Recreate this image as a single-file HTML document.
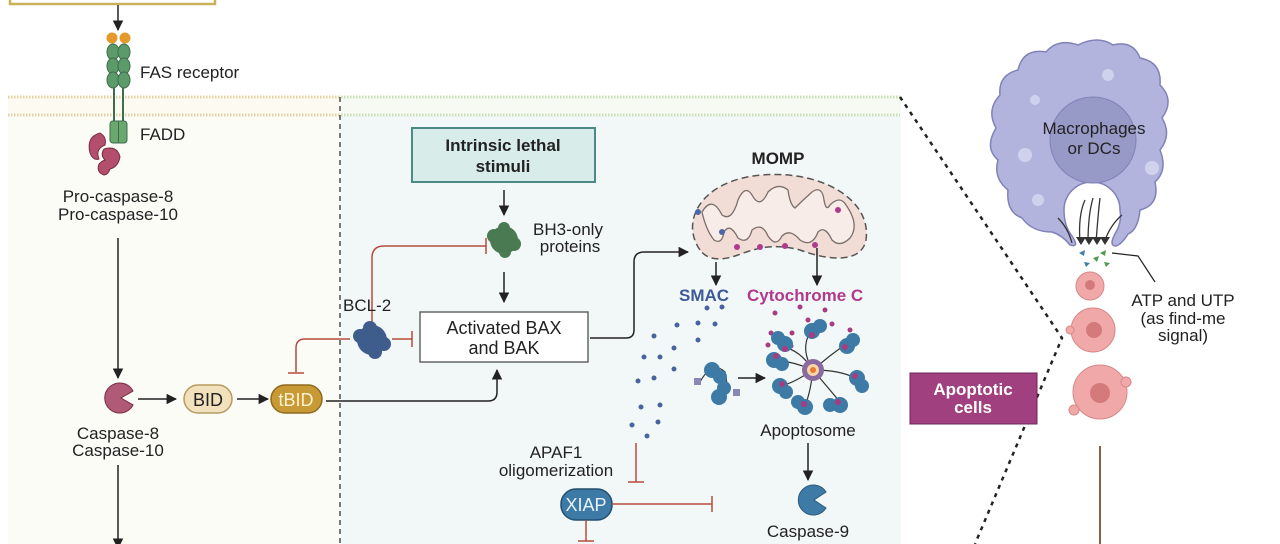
<!DOCTYPE html>
<html><head><meta charset="utf-8"><style>
html,body{margin:0;padding:0;background:#fff;}
svg{display:block;font-family:"Liberation Sans",Arial,sans-serif;}
</style></head><body>
<svg width="1280" height="544" viewBox="0 0 1280 544" xmlns="http://www.w3.org/2000/svg">
<defs>
<marker id="ar" viewBox="0 0 10 10" refX="9" refY="5" markerWidth="7" markerHeight="7" orient="auto"><path d="M0,0 L10,5 L0,10 z" fill="#222"/></marker>
</defs>
<rect width="1280" height="544" fill="#fff"/>
<rect x="8" y="115" width="332" height="429" fill="#fcfcf7"/>
<rect x="341" y="115" width="560" height="429" fill="#f2f8f7"/>
<rect x="8" y="96" width="332" height="19" fill="#fdfaf2"/>
<rect x="341" y="96" width="560" height="19" fill="#f7faf2"/>
<line x1="8" y1="97" x2="340" y2="97" stroke="#e3d3a6" stroke-width="3" stroke-dasharray="1.5 1.5"/>
<line x1="8" y1="115" x2="340" y2="115" stroke="#e3d3a6" stroke-width="3" stroke-dasharray="1.5 1.5"/>
<line x1="341" y1="97" x2="900" y2="97" stroke="#c8dfb8" stroke-width="3" stroke-dasharray="1.5 1.5"/>
<line x1="341" y1="115" x2="900" y2="115" stroke="#c8dfb8" stroke-width="3" stroke-dasharray="1.5 1.5"/>
<line x1="340" y1="97" x2="340" y2="544" stroke="#333" stroke-width="1.3" stroke-dasharray="5 4"/>
<polyline points="900,97 1062,338 975,544" fill="none" stroke="#222" stroke-width="2.5" stroke-dasharray="4 5"/>
<rect x="10" y="-10" width="205" height="14" fill="none" stroke="#c9b35a" stroke-width="2.5"/>
<line x1="118" y1="5" x2="118" y2="30" stroke="#222" stroke-width="1.5" marker-end="url(#ar)"/>
<circle cx="112" cy="38" r="5.5" fill="#e39a2a"/><circle cx="125" cy="38" r="5.5" fill="#e39a2a"/>
<g fill="#5d9a6a" stroke="#3d6e4c" stroke-width="1">
<ellipse cx="113" cy="52" rx="6" ry="8"/><ellipse cx="124" cy="52" rx="6" ry="8"/>
<ellipse cx="113" cy="66" rx="6" ry="8"/><ellipse cx="124" cy="66" rx="6" ry="8"/>
<ellipse cx="113" cy="80" rx="6" ry="8"/><ellipse cx="124" cy="80" rx="6" ry="8"/>
</g>
<line x1="114" y1="88" x2="114" y2="122" stroke="#3d6e4c" stroke-width="2"/>
<line x1="123" y1="88" x2="123" y2="122" stroke="#3d6e4c" stroke-width="2"/>
<rect x="110" y="121" width="17" height="22" rx="3" fill="#6aa870" stroke="#3d6e4c"/>
<line x1="118.5" y1="121" x2="118.5" y2="143" stroke="#3d6e4c"/>
<path d="M100,133 q-14,4 -10,20 q3,8 9,6 q-4,-10 6,-14 q2,-8 -5,-12z" fill="#b34f6d" stroke="#7a2d45"/>
<path d="M104,149 q13,-4 16,8 q-2,10 -10,12 q-2,6 -6,6 q-8,-3 -5,-11 q3,-3 6,-4 q-5,-5 -1,-11z" fill="#b34f6d" stroke="#7a2d45"/>
<g font-size="17" fill="#222">
<text x="140" y="78">FAS receptor</text>
<text x="140" y="140">FADD</text>
<text x="118" y="202" text-anchor="middle">Pro-caspase-8</text>
<text x="118" y="220" text-anchor="middle">Pro-caspase-10</text>
<text x="118" y="439" text-anchor="middle">Caspase-8</text>
<text x="118" y="456" text-anchor="middle">Caspase-10</text>
</g>
<line x1="118" y1="238" x2="118" y2="378" stroke="#222" stroke-width="1.5" marker-end="url(#ar)"/>
<line x1="118" y1="465" x2="118" y2="548" stroke="#222" stroke-width="1.5" marker-end="url(#ar)"/>
<path d="M133,391 A15,15 0 1 0 133,405 L121,398 Z" fill="#b05a78" stroke="#7a2d45"/>
<line x1="138" y1="399" x2="176" y2="399" stroke="#222" stroke-width="1.5" marker-end="url(#ar)"/>
<rect x="184" y="385" width="48" height="28" rx="14" fill="#f2e1bd" stroke="#b89a5e" stroke-width="1.5"/>
<text x="208" y="406" font-size="18" text-anchor="middle" fill="#222">BID</text>
<line x1="237" y1="399" x2="268" y2="399" stroke="#222" stroke-width="1.5" marker-end="url(#ar)"/>
<rect x="271" y="385" width="51" height="28" rx="14" fill="#c89a35" stroke="#8e6a1e" stroke-width="1.5"/>
<text x="296" y="406" font-size="18" text-anchor="middle" fill="#fdf2d0">tBID</text>
<path d="M326,401 L488,401 Q497,401 497,392 L497,370" fill="none" stroke="#222" stroke-width="1.5" marker-end="url(#ar)"/>
<path d="M350,339 L305,339 Q296,339 296,348 L296,372 M288,373 L304,373" fill="none" stroke="#b84a3c" stroke-width="1.5"/>
<path d="M392,339 L412,339 M412,331 L412,347" fill="none" stroke="#b84a3c" stroke-width="1.5"/>
<path d="M372,322 L372,258 Q372,246 384,246 L486,246 M486,238 L486,254" fill="none" stroke="#b84a3c" stroke-width="1.5"/>
<text x="343" y="311" font-size="17" fill="#222">BCL-2</text>
<g fill="#3e5c8c"><circle cx="372" cy="340" r="15"/><circle cx="360" cy="336" r="7"/><circle cx="384" cy="344" r="7"/><circle cx="370" cy="328" r="7"/><circle cx="375" cy="352" r="7"/></g>
<rect x="412" y="128" width="183" height="54" fill="#d8ecea" stroke="#4c8a86" stroke-width="2"/>
<text x="503" y="151" font-size="17" font-weight="bold" text-anchor="middle" fill="#222">Intrinsic lethal</text>
<text x="503" y="172" font-size="17" font-weight="bold" text-anchor="middle" fill="#222">stimuli</text>
<line x1="504" y1="190" x2="504" y2="215" stroke="#222" stroke-width="1.5" marker-end="url(#ar)"/>
<g fill="#4a7a52"><circle cx="504" cy="240" r="14"/><circle cx="494" cy="236" r="7"/><circle cx="514" cy="244" r="7"/><circle cx="504" cy="228" r="6"/><circle cx="505" cy="252" r="6"/></g>
<text x="568" y="235" font-size="17" text-anchor="middle" fill="#222">BH3-only</text>
<text x="570" y="252" font-size="17" text-anchor="middle" fill="#222">proteins</text>
<line x1="504" y1="272" x2="504" y2="302" stroke="#222" stroke-width="1.5" marker-end="url(#ar)"/>
<rect x="420" y="312" width="168" height="50" fill="#fff" stroke="#666" stroke-width="1.5"/>
<text x="504" y="334" font-size="18" text-anchor="middle" fill="#222">Activated BAX</text>
<text x="504" y="354" font-size="18" text-anchor="middle" fill="#222">and BAK</text>
<path d="M590,338 L626,338 Q634,338 634,330 L634,262 Q634,252 644,252 L688,252" fill="none" stroke="#222" stroke-width="1.5" marker-end="url(#ar)"/>
<text x="778" y="164" font-size="17" font-weight="bold" text-anchor="middle" fill="#222">MOMP</text>
<path d="M700,250 C680,222 700,180 762,175 C822,170 872,200 866,240 C862,262 832,262 800,250 C770,242 752,250 735,256 C716,262 706,258 700,250 Z" fill="#f1dcd6" stroke="#555" stroke-width="1.5" stroke-dasharray="7 4"/>
<path d="M702,212 Q712,195 722,215 Q732,222 738,200 Q745,184 752,195 Q760,210 768,192 Q778,182 788,190 Q790,205 795,208 Q803,200 812,192 Q822,185 824,200 Q826,212 830,205 Q840,195 846,205 Q860,225 850,238 Q840,248 832,240 Q825,225 818,232 Q812,248 800,240 Q790,228 782,236 Q776,248 768,236 Q762,222 752,230 Q748,245 738,238 Q730,222 724,232 Q722,245 714,240 Q706,230 702,212 Z" fill="#f8ece8" stroke="#7a6e6a" stroke-width="1.3"/>
<circle cx="698" cy="212" r="3" fill="#4a68a8"/><circle cx="722" cy="232" r="3" fill="#4a68a8"/>
<g fill="#b03a8e"><circle cx="838" cy="210" r="3"/><circle cx="737" cy="247" r="3"/><circle cx="760" cy="247" r="3"/><circle cx="785" cy="246" r="3"/><circle cx="815" cy="245" r="3"/></g>
<line x1="716" y1="262" x2="716" y2="285" stroke="#222" stroke-width="1.5" marker-end="url(#ar)"/>
<line x1="817" y1="248" x2="817" y2="285" stroke="#222" stroke-width="1.5" marker-end="url(#ar)"/>
<text x="679" y="301" font-size="17" font-weight="bold" fill="#3f5a98">SMAC</text>
<text x="747" y="301" font-size="17" font-weight="bold" fill="#b03a8e">Cytochrome C</text>
<g fill="#4a63a0">
<circle cx="707" cy="308" r="2.5"/><circle cx="722" cy="307" r="2.5"/><circle cx="677" cy="325" r="2.5"/><circle cx="698" cy="323" r="2.5"/><circle cx="715" cy="324" r="2.5"/><circle cx="654" cy="336" r="2.5"/><circle cx="698" cy="340" r="2.5"/><circle cx="674" cy="348" r="2.5"/><circle cx="644" cy="357" r="2.5"/><circle cx="660" cy="357" r="2.5"/><circle cx="674" cy="369" r="2.5"/><circle cx="638" cy="381" r="2.5"/><circle cx="654" cy="378" r="2.5"/><circle cx="641" cy="407" r="2.5"/><circle cx="660" cy="405" r="2.5"/><circle cx="632" cy="425" r="2.5"/><circle cx="658" cy="422" r="2.5"/><circle cx="647" cy="436" r="2.5"/></g>
<g fill="#a83c80">
<circle cx="775" cy="313" r="2.5"/><circle cx="800" cy="307" r="2.5"/><circle cx="808" cy="320" r="2.5"/><circle cx="825" cy="310" r="2.5"/><circle cx="771" cy="333" r="2.5"/><circle cx="792" cy="333" r="2.5"/><circle cx="832" cy="324" r="2.5"/><circle cx="768" cy="345" r="2.5"/><circle cx="850" cy="330" r="2.5"/><circle cx="791" cy="346" r="2.5"/></g>
<g stroke="#333" stroke-width="1.2" fill="none">
<path d="M813,370 Q800,350 810,332"/><path d="M813,370 Q830,355 845,345"/><path d="M813,370 Q840,370 855,378"/><path d="M813,370 Q830,390 840,402"/><path d="M813,370 Q810,395 805,405"/><path d="M813,370 Q790,385 782,385"/><path d="M813,370 Q795,362 775,360"/><path d="M813,370 Q800,350 783,347"/>
</g>
<g fill="#3d7aa6">
<circle cx="812" cy="331" r="8"/><circle cx="847" cy="346" r="8"/><circle cx="857" cy="378" r="8"/><circle cx="840" cy="405" r="8"/><circle cx="805" cy="407" r="8"/><circle cx="780" cy="386" r="8"/><circle cx="774" cy="360" r="8"/><circle cx="785" cy="344" r="8"/>
<circle cx="820" cy="326" r="7"/><circle cx="853" cy="340" r="7"/><circle cx="862" cy="386" r="7"/><circle cx="830" cy="405" r="7"/><circle cx="798" cy="402" r="7"/><circle cx="786" cy="392" r="7"/><circle cx="782" cy="364" r="7"/><circle cx="778" cy="338" r="7"/>
</g>
<g fill="#a83c80"><circle cx="812" cy="335" r="3"/><circle cx="845" cy="347" r="3"/><circle cx="855" cy="376" r="3"/><circle cx="838" cy="402" r="3"/><circle cx="804" cy="404" r="3"/><circle cx="782" cy="384" r="3"/><circle cx="776" cy="356" r="3"/><circle cx="785" cy="349" r="3"/></g>
<circle cx="813" cy="370" r="11" fill="#8a6aa0"/><circle cx="813" cy="370" r="6" fill="#f8d6a8"/><circle cx="813" cy="370" r="3" fill="#e87a30"/>
<path d="M700,382 Q712,360 725,372 Q730,390 720,398" fill="none" stroke="#333" stroke-width="1.2"/>
<circle cx="712" cy="370" r="8" fill="#3d7aa6"/><circle cx="720" cy="377" r="7" fill="#3d7aa6"/>
<circle cx="719" cy="397" r="8" fill="#3d7aa6"/><circle cx="724" cy="388" r="7" fill="#3d7aa6"/>
<rect x="694" y="378" width="7" height="7" fill="#8a86b8"/><rect x="733" y="389" width="7" height="7" fill="#8a86b8"/>
<line x1="738" y1="378" x2="765" y2="378" stroke="#222" stroke-width="1.5" marker-end="url(#ar)"/>
<text x="808" y="436" font-size="17" text-anchor="middle" fill="#222">Apoptosome</text>
<line x1="808" y1="443" x2="808" y2="480" stroke="#222" stroke-width="1.5" marker-end="url(#ar)"/>
<path d="M826,492 A15,15 0 1 0 826,508 L814,500 Z" fill="#3d7aa6" stroke="#2a5a80"/>
<text x="808" y="537" font-size="17" text-anchor="middle" fill="#222">Caspase-9</text>
<text x="556" y="458" font-size="17" text-anchor="middle" fill="#222">APAF1</text>
<text x="556" y="476" font-size="17" text-anchor="middle" fill="#222">oligomerization</text>
<path d="M636,443 L636,482 M628,482 L644,482" stroke="#b84a3c" stroke-width="1.5" fill="none"/>
<rect x="561" y="489" width="51" height="31" rx="15" fill="#3d7aa6" stroke="#22506e" stroke-width="1.5"/>
<text x="586" y="511" font-size="18" text-anchor="middle" fill="#eaf2f8">XIAP</text>
<path d="M612,504 L712,504 M712,496 L712,512" stroke="#b84a3c" stroke-width="1.5" fill="none"/>
<path d="M586,520 L586,541 M578,541 L594,541" stroke="#b84a3c" stroke-width="1.5" fill="none"/>
<rect x="910" y="373" width="127" height="51" fill="#a0407f" stroke="#6e2558"/>
<text x="973" y="395" font-size="17" font-weight="bold" text-anchor="middle" fill="#fff">Apoptotic</text>
<text x="973" y="413" font-size="17" font-weight="bold" text-anchor="middle" fill="#fff">cells</text>
<path d="M1070,245 Q1062,235 1052,232 Q1032,232 1022,218 Q1006,212 1008,190 Q993,178 998,160 Q984,148 996,128 Q986,110 1000,95 Q998,75 1018,70 Q1023,48 1046,52 Q1058,38 1078,45 Q1098,35 1113,45 Q1133,40 1140,58 Q1162,62 1160,85 Q1175,100 1162,118 Q1172,135 1160,150 Q1168,170 1155,182 Q1160,205 1140,210 Q1138,230 1128,234 Q1122,244 1116,246 Q1108,246 1116,232 Q1122,222 1120,210 A28,28 0 1 0 1064,210 Q1064,226 1072,236 Q1080,248 1070,245 Z" fill="#b2b4de" stroke="#8082b8" stroke-width="1.5"/>
<circle cx="1093" cy="140" r="43" fill="#9799c6" stroke="#8082b8"/>
<g fill="#d4d6ef" opacity="0.9"><circle cx="1025" cy="155" r="7"/><circle cx="1108" cy="75" r="6"/><circle cx="1035" cy="100" r="5"/><circle cx="1152" cy="168" r="7"/><circle cx="1038" cy="200" r="6"/></g>
<text x="1094" y="134" font-size="17" text-anchor="middle" fill="#222">Macrophages</text>
<text x="1094" y="154" font-size="17" text-anchor="middle" fill="#222">or DCs</text>
<g stroke="#333" stroke-width="1.3" fill="none">
<path d="M1080,243 Q1078,215 1085,200"/><path d="M1088,243 Q1088,215 1093,198"/><path d="M1096,243 Q1098,215 1100,198"/><path d="M1104,243 Q1110,225 1122,215"/><path d="M1072,243 Q1068,228 1058,218"/>
</g>
<path d="M1076,237 l10,0 l-5,8z M1084,237 l10,0 l-5,8z M1092,237 l10,0 l-5,8z M1100,237 l10,0 l-5,8z" fill="#333"/>
<g fill="#3f7fa8"><path d="M1079,253 l6,-3 l-1,6z"/><path d="M1084,262 l6,1 l-4,4z"/></g>
<g fill="#4f9a50"><path d="M1100,253 l6,-3 l-1,6z"/><path d="M1104,262 l6,1 l-4,4z"/><path d="M1093,258 l6,-2 l-2,6z"/></g>
<polyline points="1112,253 1138,256 1155,282" fill="none" stroke="#222" stroke-width="1.2"/>
<g fill="#f0a8a8" stroke="#d88888"><circle cx="1090" cy="286" r="14"/><circle cx="1093" cy="330" r="22"/><circle cx="1100" cy="392" r="27"/><circle cx="1126" cy="382" r="5"/><circle cx="1074" cy="410" r="5"/><circle cx="1070" cy="330" r="4"/></g>
<g fill="#d47a7a"><circle cx="1090" cy="285" r="5"/><circle cx="1094" cy="330" r="8"/><circle cx="1100" cy="393" r="10"/></g>
<text x="1183" y="306" font-size="17" text-anchor="middle" fill="#222">ATP and UTP</text>
<text x="1183" y="324" font-size="17" text-anchor="middle" fill="#222">(as find-me</text>
<text x="1183" y="341" font-size="17" text-anchor="middle" fill="#222">signal)</text>
<line x1="1100" y1="446" x2="1100" y2="544" stroke="#8a6048" stroke-width="2"/>
</svg>
</body></html>
